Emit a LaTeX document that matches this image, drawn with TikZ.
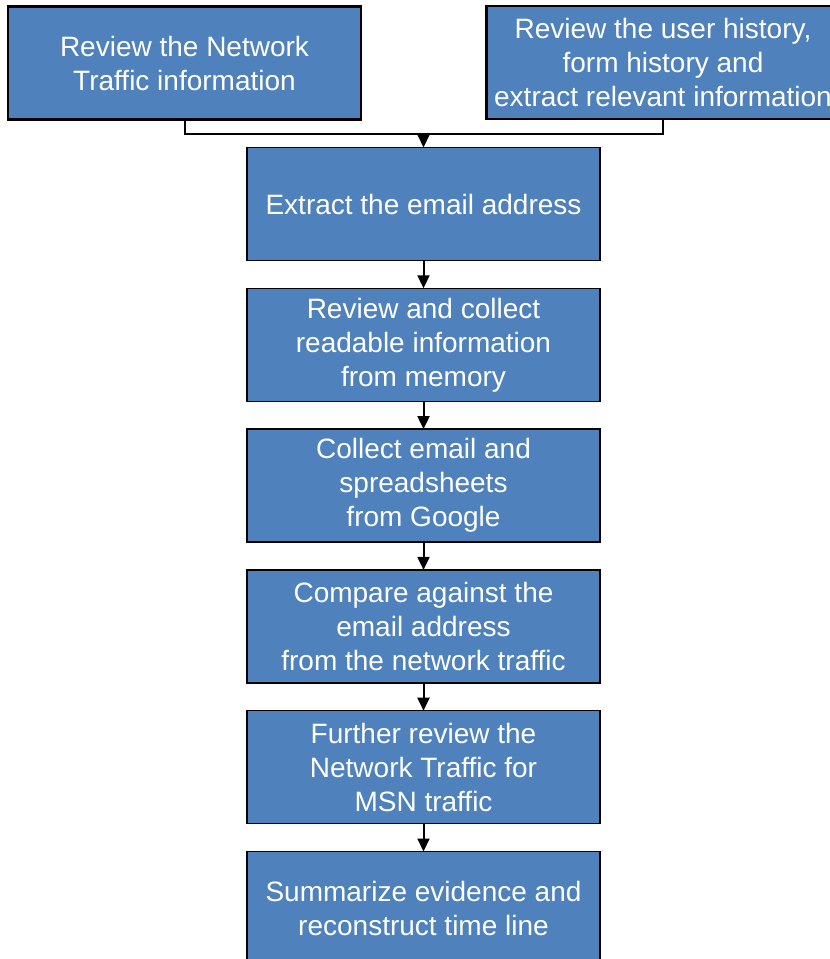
\documentclass[tikz,border=0pt]{standalone}
\usepackage{fontspec}
\setmainfont{Liberation Sans}
\usepackage{xcolor}
\usetikzlibrary{positioning,calc,arrows.meta}
\definecolor{boxblue}{RGB}{79,129,189}

\begin{document}
\begin{tikzpicture}[x=1pt,y=-1pt,node distance=27.8pt,
 b/.style={draw=black,line width=1.3pt,fill=boxblue,text=white,align=center,inner sep=0pt,outer sep=0pt,
  minimum width=353pt,minimum height=113pt,font=\fontsize{28}{34}\selectfont},
 ln/.style={line width=2pt},
 ar/.style={line width=2pt,-{Triangle[length=13pt,width=12pt]}}]
\useasboundingbox (0,0) rectangle (830,959);
\node[b,line width=2.2pt] (net) at (184.5,63) {Review the Network\\ Traffic information};
\node[b,line width=2.2pt] (hist) at (663,62.5) {Review the user history,\\ form history and\\ extract relevant information};
\node[b] (addr) at (423.5,204) {Extract the email address};
\node[b,below=of addr] (mem) {Review and collect\\ readable information\\ from memory};
\node[b,below=of mem] (goog) {Collect email and\\ spreadsheets\\ from Google};
\node[b,below=of goog] (cmp) {Compare against the\\ email address\\ from the network traffic};
\node[b,below=of cmp] (msn) {Further review the\\ Network Traffic for\\ MSN traffic};
\node[b,below=of msn] (sum) {Summarize evidence and\\ reconstruct time line};
\coordinate (join) at ($(addr.north)+(0,-14)$);
\draw[ln] (net.south) |- (join) -| (hist.south);
\draw[ar] (join) -- (addr); \draw[ar] (addr) -- (mem); \draw[ar] (mem) -- (goog);
\draw[ar] (goog) -- (cmp); \draw[ar] (cmp) -- (msn); \draw[ar] (msn) -- (sum);
\end{tikzpicture}
\end{document}
